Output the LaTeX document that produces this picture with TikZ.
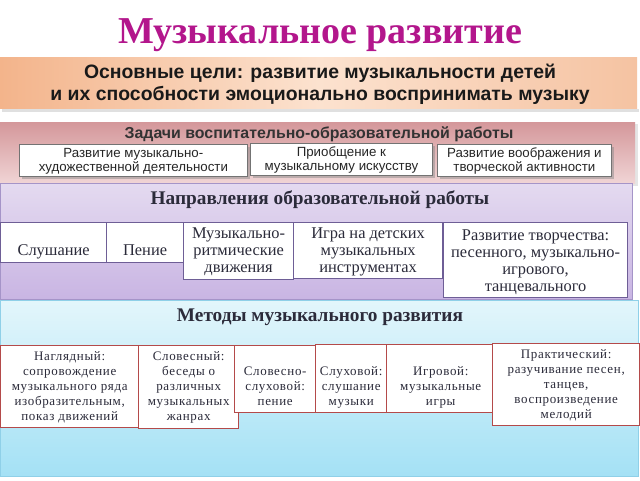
\documentclass[tikz,border=0pt]{standalone}
\usepackage{fontspec}
\setmainfont{Liberation Serif}
\setsansfont{Liberation Sans}
\usetikzlibrary{shadows}
\definecolor{ttl}{HTML}{B3168C}
\definecolor{orL}{HTML}{F3B48B}
\definecolor{orM}{HTML}{FCE2CF}
\definecolor{orR}{HTML}{F5C3A2}
\definecolor{pkT}{HTML}{D4979A}
\definecolor{pkB}{HTML}{F0D4D5}
\definecolor{puT}{HTML}{E4DAF0}
\definecolor{puB}{HTML}{C9B5E3}
\definecolor{puLine}{HTML}{A594C8}
\definecolor{blT}{HTML}{E3F6FB}
\definecolor{blB}{HTML}{A4E1F5}
\definecolor{blLine}{HTML}{8FD0E8}
\definecolor{dkText}{HTML}{2B2B3A}
\definecolor{boxPu}{HTML}{6E5E96}
\definecolor{boxRd}{HTML}{B44A4A}
\newcommand\fsz[2]{\fontsize{#1}{#2}\selectfont}
\begin{document}
\begin{tikzpicture}[x=1pt,y=-1pt,
  maintitle/.style={font=\bfseries\fsz{38}{40}, text=ttl, anchor=base, inner sep=0},
  goaltext/.style={font=\sffamily\bfseries\fsz{19.4}{22}, text=black!90, align=center, anchor=base, inner sep=0},
  sectS/.style={font=\sffamily\bfseries\fsz{15.9}{17}, text=black!80, anchor=base, inner sep=0},
  sectR/.style={font=\bfseries\fsz{19.3}{20}, text=dkText, anchor=base, inner sep=0},
  taskbox/.style={draw=black!55, fill=white, line width=0.8pt, anchor=north west, inner sep=0,
     drop shadow={shadow xshift=2.5pt, shadow yshift=-2.5pt, fill=black!45}},
  tasktext/.style={font=\sffamily\fsz{13.3}{13.5}, text=black!85, align=center, anchor=base, inner sep=0},
  dirbox/.style={draw=boxPu, fill=white, line width=1.2pt, anchor=north west, inner sep=0},
  dirtext/.style={font=\fsz{16.4}{17}, text=dkText, align=center, anchor=base, inner sep=0},
  metbox/.style={draw=boxRd, fill=white, line width=1.4pt, anchor=north west, inner sep=0},
  mettext/.style={font=\fsz{13}{14.8}\addfontfeature{LetterSpace=5}, text=dkText, align=center, anchor=base, inner sep=0}]
\useasboundingbox (0,0) rectangle (640,480);
\fill[white] (0,0) rectangle (640,480);

% title
\node[maintitle] (title) at (320,43) {Музыкальное развитие};

% goals band
\fill[black!12] (2,109) rectangle (639,112);
\shade[left color=orL, right color=orR, middle color=orM] (0,57) rectangle (637,108);
\node[goaltext] (goal) at (320,100) {Основные цели: развитие музыкальности детей\\и их способности эмоционально воспринимать музыку};

% tasks band
\fill[black!10] (3,124) rectangle (638,186);
\shade[top color=pkT, bottom color=pkB] (0,122) rectangle (635,183);
\node[sectS] (tasks) at (319,138) {Задачи воспитательно-образовательной работы};
\node[taskbox, minimum width=228pt, minimum height=32pt] (t1) at (19,144) {};
\node[taskbox, minimum width=182pt, minimum height=32pt] (t2) at (250,143) {};
\node[taskbox, minimum width=174pt, minimum height=32pt] (t3) at (437,144) {};
\node[tasktext] (t1t) at (t1.center |- 0,171) {Развитие музыкально-\\художественной деятельности};
\node[tasktext] (t2t) at (t2.center |- 0,170) {Приобщение к\\музыкальному искусству};
\node[tasktext] (t3t) at (t3.center |- 0,171) {Развитие воображения и\\творческой активности};

% directions band
\shade[top color=puT, bottom color=puB, draw=puLine, line width=0.6pt] (0,183) rectangle (632,299);
\node[sectR] (dirs) at (320,204) {Направления образовательной работы};
\node[dirbox, minimum width=106pt, minimum height=40pt] (d1) at (0,222) {};
\node[dirbox, minimum width=77pt, minimum height=40pt] (d2) at (106,222) {};
\node[dirbox, minimum width=110pt, minimum height=57pt] (d3) at (183,222) {};
\node[dirbox, minimum width=149pt, minimum height=56pt] (d4) at (293,222) {};
\node[dirbox, minimum width=184pt, minimum height=75pt] (d5) at (443,222) {};
\node[dirtext] (d1t) at (d1.center |- 0,255) {Слушание};
\node[dirtext] (d2t) at (d2.center |- 0,255) {Пение};
\node[dirtext] (d3t) at (d3.center |- 0,272) {Музыкально-\\ритмические\\движения};
\node[dirtext] (d4t) at (d4.center |- 0,272) {Игра на детских\\музыкальных\\инструментах};
\node[dirtext] (d5t) at (d5.center |- 0,291) {Развитие творчества:\\песенного, музыкально-\\игрового,\\танцевального};

% methods band
\shade[top color=blT, bottom color=blB, draw=blLine, line width=0.6pt] (0,300) rectangle (638,476);
\node[sectR] (mets) at (320,321) {Методы музыкального развития};
\node[metbox, minimum width=138pt, minimum height=82pt] (m1) at (0,345) {};
\node[metbox, minimum width=100pt, minimum height=83pt] (m2) at (138,345) {};
\node[metbox, minimum width=81pt, minimum height=67pt] (m3) at (234,345) {};
\node[metbox, minimum width=71pt, minimum height=68pt] (m4) at (315,344) {};
\node[metbox, minimum width=108pt, minimum height=68pt] (m5) at (386,344) {};
\node[metbox, minimum width=147pt, minimum height=82pt] (m6) at (492,343) {};
\node[mettext] (m1t) at (m1.center |- 0,420) {Наглядный:\\сопровождение\\музыкального ряда\\изобразительным,\\показ движений};
\node[mettext] (m2t) at (m2.center |- 0,420) {Словесный:\\беседы о\\различных\\музыкальных\\жанрах};
\node[mettext] (m3t) at (m3.center |- 0,405) {Словесно-\\слуховой:\\пение};
\node[mettext] (m4t) at (m4.center |- 0,405) {Слуховой:\\слушание\\музыки};
\node[mettext] (m5t) at (m5.center |- 0,405) {Игровой:\\музыкальные\\игры};
\node[mettext] (m6t) at (m6.center |- 0,418) {Практический:\\разучивание песен,\\танцев,\\воспроизведение\\мелодий};
\end{tikzpicture}
\end{document}
